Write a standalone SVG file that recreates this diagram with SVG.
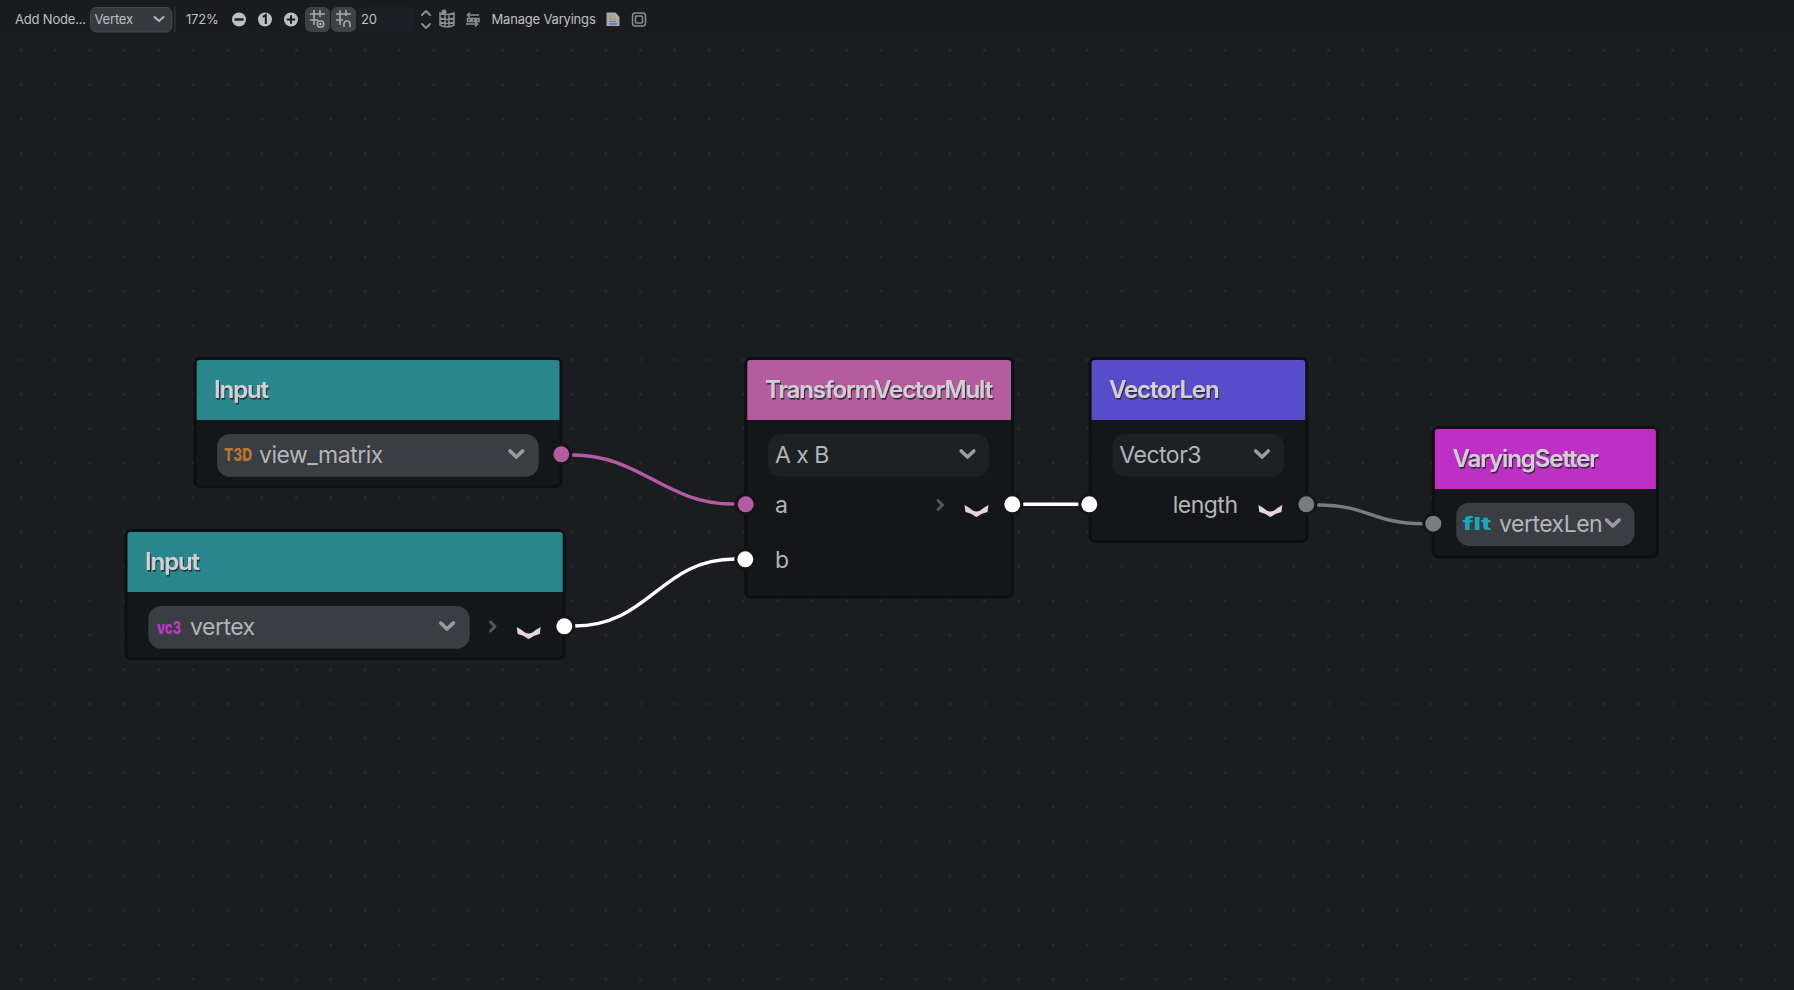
<svg xmlns="http://www.w3.org/2000/svg" width="1794" height="990" viewBox="0 0 1794 990">
<style>
text{font-family:Inter,"Liberation Sans",sans-serif}
.tb{font-size:13px;letter-spacing:-0.19px;fill:#bfc0c4}
.title{font-size:24px;font-weight:600;letter-spacing:-1.1px;fill:#d3cfd4;filter:url(#ts)}
.lbl{font-size:23px;letter-spacing:-0.5px;fill:#b4b5b8}
.frame{fill:#151619;stroke:#0e0f11;stroke-width:3}
.sel{fill:#3a3d42}
.sel2{fill:#1d2124}
.chev{fill:none;stroke:#9b9c9f;stroke-width:3.6;stroke-linecap:round;stroke-linejoin:round}
.ring{stroke:#141518;stroke-width:3}
.wire{fill:none;stroke-width:3.4;stroke-linecap:round}
.next{fill:none;stroke:#55565a;stroke-width:3;stroke-linecap:round;stroke-linejoin:round}
.smile{fill:#e6d4e6}
.ic{font-size:17px;font-weight:800}
.ti{fill:none;stroke:#a9aaae;stroke-width:1.6}
.tj{fill:none;stroke:#8d8e92;stroke-width:1.500}
.ts{fill:#bdbec2}
</style>
<defs>
<filter id="ts" x="-10%" y="-30%" width="120%" height="160%"><feDropShadow dx="1" dy="1.6" stdDeviation="0.4" flood-color="#232328" flood-opacity="0.9"/></filter>
<pattern id="grid" x="19.600" y="14.500" width="34.400" height="34.400" patternUnits="userSpaceOnUse"><circle cx="1.500" cy="1.500" r="1.250" fill="#2b2e32"/></pattern>
<path id="sm" class="smile" d="M-12,-5 L-7,-2 Q-3,1.500 0,1.500 Q3,1.500 7,-2 L12,-5 L11,2 Q5,3 1,6.500 L0,7 L-1,6.500 Q-5,3 -11,2Z"/>
</defs>
<rect width="1794" height="990" fill="#1a1c20"/>
<rect y="42" width="1794" height="948" fill="url(#grid)"/>
<rect width="1794" height="34" fill="#191b1f"/>

<g id="toolbar">
<text class="tb" x="15" y="24">Add Node...</text>
<rect x="90.500" y="7.500" width="81.500" height="24.500" rx="6" fill="#36393e" stroke="#45474c"/>
<text class="tb" x="94.500" y="24">Vertex</text>
<path d="M154.500,17 L159,21 L163.500,17" fill="none" stroke="#b5b6ba" stroke-width="2" stroke-linecap="round" stroke-linejoin="round"/>
<line x1="175" y1="7" x2="175" y2="32" stroke="#303236" stroke-width="1.500"/>
<text class="tb" x="186" y="24">172%</text>
<circle cx="239" cy="19.500" r="7" class="ts"/><rect x="234.500" y="18.300" width="9" height="2.400" fill="#191b1f"/>
<circle cx="265" cy="19.500" r="7" class="ts"/><path d="M262.800,16.800 L265.800,15 V24" fill="none" stroke="#191b1f" stroke-width="2"/>
<circle cx="291" cy="19.500" r="7" class="ts"/><path d="M286.800,19.500 H295.200 M291,15.300 V23.700" stroke="#191b1f" stroke-width="2"/>
<rect x="305" y="7" width="25" height="25" rx="6" fill="#3f4146"/>
<rect x="331" y="7" width="25" height="25" rx="6" fill="#3f4146"/>
<path class="ti" d="M310,14 H325 M310,20 H318 M314,10 V25 M320,10 V17"/><circle cx="320.500" cy="24" r="3.200" class="ti"/><circle cx="320.500" cy="24" r="1.200" class="ts"/>
<path class="ti" d="M336,14 H351 M336,20 H343 M340,10 V25 M346,10 V16 M344,27 V24 A3,3 0 0 1 350,24 V27"/>
<rect x="358" y="7" width="57" height="25" rx="5" fill="#1c1f23"/>
<text class="tb" x="361" y="24">20</text>
<path d="M422,15 L426,11 L430,15 M422,24 L426,28 L430,24" fill="none" stroke="#8d8e92" stroke-width="1.900" stroke-linecap="round" stroke-linejoin="round"/>
<path class="tj" d="M440,13 Q447,16 454,13 V25 Q447,29 440,25Z M440,18 Q447,21 454,18 M440,22 Q447,25 454,22 M445,15 V27 M449,15 V27"/><circle cx="444" cy="12" r="2.500" fill="#8d8e92"/>
<path class="tj" d="M468,15 H479 M466,24 H477"/><path class="tj" d="M467.500,18.500 H470.500 V21.500 H467.500Z M472,18.500 H475 V21.500 H472Z M476.500,18.500 H479 V21.500 H476.500Z"/><path class="tj" d="M470,12.500 L467.500,15 L470,17.500 M475,21.500 L477.500,24 L475,26.500"/>
<text class="tb" x="491.500" y="24">Manage Varyings</text>
<path d="M606.500,12.500 H615.500 L619.500,17 V26 H606.500Z" fill="#a9aaae"/>
<path d="M609,16 H613 M609,19 H616" stroke="#d07b30" stroke-width="1.200"/><path d="M609,21.500 H616" stroke="#28a0b0" stroke-width="1.200"/><path d="M609,24 H617" stroke="#b030c0" stroke-width="1.200"/>
<rect x="632.500" y="13" width="13" height="13" rx="3" class="tj"/><rect x="635.500" y="16" width="7" height="7" rx="1" class="tj"/>
</g>

<g id="connectors">
<path class="wire" stroke="#b55ba1" d="M573,455 C640,455 665,504 733,504"/>
<path class="wire" stroke="#ffffff" d="M574,626 C650,626 660,559 735,559"/>
<path class="wire" stroke="#ffffff" d="M1024,504.300 H1078"/>
<path class="wire" stroke="#7a7b7e" d="M1318,505 C1368,505 1373,523.700 1423,523.700"/>
</g>

<g id="node-input-view-matrix">
<rect class="frame" x="195" y="358.500" width="366" height="128" rx="5"/>
<path d="M196.700,420 V363 Q196.700,360 199.700,360 H556.500 Q559.500,360 559.500,363 V420Z" fill="#28868c"/>
<text class="title" x="214" y="398">Input</text>
<rect class="sel" x="217" y="434" width="321.700" height="42.700" rx="13"/>
<text class="ic" fill="#bd7730" x="224" y="460.500" textLength="28" lengthAdjust="spacingAndGlyphs">T3D</text>
<text class="lbl" x="259" y="463">view_matrix</text>
<path class="chev" d="M510,451 L516.300,457 L522.600,451"/>
<circle class="ring" cx="561.300" cy="454.300" r="9.500" fill="#b55ba1"/>
</g>

<g id="node-input-vertex">
<rect class="frame" x="126" y="530.500" width="438" height="128" rx="5"/>
<path d="M127.500,592 V535 Q127.500,532 130.500,532 H559.700 Q562.700,532 562.700,535 V592Z" fill="#28868c"/>
<text class="title" x="145" y="570">Input</text>
<rect class="sel" x="148.300" y="606" width="321.400" height="42.700" rx="13"/>
<text class="ic" fill="#bf35c8" x="157" y="634" textLength="24" lengthAdjust="spacingAndGlyphs">vc3</text>
<text class="lbl" x="190" y="635">vertex</text>
<path class="chev" d="M440.700,623 L447,629 L453.300,623"/>
<path class="next" d="M490.500,622 L495,626.500 L490.500,631"/>
<use href="#sm" x="528.700" y="632"/>
<circle class="ring" cx="564.300" cy="626.300" r="9.500" fill="#ffffff"/>
</g>

<g id="node-transform-vector-mult">
<rect class="frame" x="745.800" y="358.500" width="266.700" height="238.500" rx="5"/>
<path d="M747.300,420 V363 Q747.300,360 750.300,360 H1008 Q1011,360 1011,363 V420Z" fill="#b55ba0"/>
<text class="title" x="765" y="398">TransformVectorMult</text>
<rect class="sel2" x="768" y="434" width="221" height="42.700" rx="13"/>
<text class="lbl" x="775" y="463">A x B</text>
<path class="chev" d="M961.200,451 L967.500,457 L973.800,451"/>
<text class="lbl" x="775" y="513">a</text>
<text class="lbl" x="775" y="568">b</text>
<path class="next" d="M938,500.500 L942.500,505 L938,509.500"/>
<use href="#sm" x="976.500" y="510"/>
<circle class="ring" cx="745.700" cy="504.300" r="9.500" fill="#b55ba1"/>
<circle class="ring" cx="745.300" cy="559.300" r="9.500" fill="#ffffff"/>
<circle class="ring" cx="1012.300" cy="504.300" r="9.500" fill="#ffffff"/>
</g>

<g id="node-vector-len">
<rect class="frame" x="1090.100" y="358.500" width="216.600" height="183" rx="5"/>
<path d="M1091.600,420 V363 Q1091.600,360 1094.600,360 H1302.200 Q1305.200,360 1305.200,363 V420Z" fill="#584ccb"/>
<text class="title" x="1109" y="398">VectorLen</text>
<rect class="sel2" x="1112.600" y="434" width="171.600" height="42.700" rx="13"/>
<text class="lbl" x="1119.300" y="463">Vector3</text>
<path class="chev" d="M1255.700,451 L1262,457 L1268.300,451"/>
<text class="lbl" x="1172.700" y="513">length</text>
<use href="#sm" x="1270.400" y="510"/>
<circle class="ring" cx="1089.300" cy="504.300" r="9.500" fill="#ffffff"/>
<circle class="ring" cx="1306.300" cy="504.300" r="9.500" fill="#7a7b7e"/>
</g>

<g id="node-varying-setter">
<rect class="frame" x="1433.300" y="427.500" width="224.100" height="129.500" rx="5"/>
<path d="M1434.800,489 V432 Q1434.800,429 1437.800,429 H1652.900 Q1655.900,429 1655.900,432 V489Z" fill="#bd30c4"/>
<text class="title" x="1452.600" y="467">VaryingSetter</text>
<rect class="sel" x="1456.200" y="502.700" width="178.300" height="43.300" rx="13"/>
<text class="ic" fill="#1aa6b8" x="1462.500" y="530" textLength="29" lengthAdjust="spacingAndGlyphs">flt</text>
<text class="lbl" x="1499" y="532">vertexLen</text>
<path class="chev" d="M1606.500,520 L1612.800,526 L1619.100,520"/>
<circle class="ring" cx="1433.300" cy="523.700" r="9.500" fill="#7a7b7e"/>
</g>
</svg>
